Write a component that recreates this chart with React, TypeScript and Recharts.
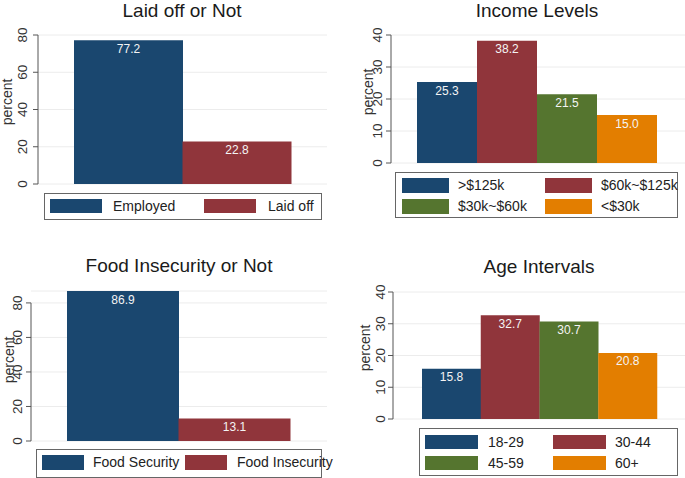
import React from 'react';
import { BarChart, Bar, XAxis, YAxis, CartesianGrid, Cell, LabelList } from 'recharts';

// values
const laidCats = ['Employed', 'Laid off'];
const laidVals = [77.2, 22.8];
const incomeCats = ['>$125k', '$60k~$125k', '$30k~$60k', '<$30k'];
const incomeVals = [25.3, 38.2, 21.5, 15.0];
const foodCats = ['Food Security', 'Food Insecurity'];
const foodVals = [86.9, 13.1];
const ageCats = ['18-29', '30-44', '45-59', '60+'];
const ageVals = [15.8, 32.7, 30.7, 20.8];
const ticks80 = [0, 20, 40, 60, 80];
const ticks40 = [0, 10, 20, 30, 40];

const palette = ['#1a476f', '#90353b', '#55752f', '#e37e00'];
const W = 685;
const H = 478;
const FONT = '"Liberation Sans", Arial, sans-serif';
const AXIS = '#555';

const YTick = ({ y, payload, plotLeft, plotBottom, topTick, labelDx }: any) => (
  <g>
    <line x1={plotLeft - 5} x2={plotLeft} y1={y} y2={y} stroke={AXIS} />
    {payload.value === topTick && (
      <line x1={plotLeft} x2={plotLeft} y1={y} y2={plotBottom} stroke={AXIS} />
    )}
    <text
      transform={`translate(${plotLeft - labelDx},${y}) rotate(-90)`}
      textAnchor="middle"
      fontSize={13.5}
      fontFamily={FONT}
      fill="#333"
    >
      {payload.value}
    </text>
  </g>
);

const PercentLabel = ({ px, py }: any) => (
  <text
    transform={`translate(${px},${py}) rotate(-90)`}
    textAnchor="middle"
    fontSize={14}
    fontFamily={FONT}
    fill="#333"
  >
    percent
  </text>
);

interface PanelProps {
  title: string;
  titleX: number;
  titleY: number;
  cats: string[];
  vals: number[];
  ticks: number[];
  margin: { top: number; right: number; bottom: number; left: number };
  padding: { left: number; right: number };
  labelDx: number;
  percentX: number;
  percentY: number;
  legend: {
    box: [number, number, number, number];
    swX: number[];
    txX: number[];
    rowY: number[];
    swW: number;
    swH: number;
  };
}

const Panel = (p: PanelProps) => {
  const rows = p.cats.map((name, i) => ({ name, value: p.vals[i] }));
  const topTick = p.ticks[p.ticks.length - 1];
  const plotLeft = p.margin.left + 30;
  const plotBottom = H - p.margin.bottom;
  const cols = p.legend.swX.length;
  return (
    <>
      <div style={{ position: 'absolute', left: 0, top: 0 }}>
        <BarChart width={W} height={H} data={rows} margin={p.margin} barCategoryGap={0}>
          <CartesianGrid vertical={false} stroke="#ececec" />
          <XAxis dataKey="name" type="category" hide padding={p.padding} />
          <YAxis
            width={30}
            domain={[0, Math.max(topTick, ...p.vals)]}
            ticks={p.ticks}
            interval={0}
            axisLine={false}
            tickLine={false}
            tickSize={0}
            tickMargin={0}
            tick={(t: any) => (
              <YTick {...t} plotLeft={plotLeft} plotBottom={plotBottom} topTick={topTick} labelDx={p.labelDx} />
            )}
            label={<PercentLabel px={p.percentX} py={p.percentY} />}
          />
          <Bar dataKey="value" isAnimationActive={false}>
            {rows.map((r, i) => (
              <Cell key={r.name} fill={palette[i]} />
            ))}
            <LabelList
              dataKey="value"
              position="insideTop"
              offset={4}
              fill="#f4f4f4"
              fontSize={12}
              fontFamily={FONT}
              formatter={(v: any) => Number(v).toFixed(1)}
            />
          </Bar>
        </BarChart>
      </div>
      <div
        style={{
          position: 'absolute',
          left: p.titleX,
          top: p.titleY,
          transform: 'translateX(-50%)',
          fontSize: 19,
          lineHeight: '19px',
          fontFamily: FONT,
          color: '#1a1a1a',
          whiteSpace: 'nowrap',
        }}
      >
        {p.title}
      </div>
      <div
        style={{
          position: 'absolute',
          left: p.legend.box[0],
          top: p.legend.box[1],
          width: p.legend.box[2],
          height: p.legend.box[3],
          border: '1px solid #666',
          boxSizing: 'border-box',
        }}
      />
      {p.cats.map((c, i) => {
        const col = i % cols;
        const row = Math.floor(i / cols);
        const top = p.legend.rowY[row];
        return (
          <React.Fragment key={c}>
            <div
              style={{
                position: 'absolute',
                left: p.legend.swX[col],
                top,
                width: p.legend.swW,
                height: p.legend.swH,
                background: palette[i],
              }}
            />
            <div
              style={{
                position: 'absolute',
                left: p.legend.txX[col],
                top,
                height: p.legend.swH,
                lineHeight: `${p.legend.swH}px`,
                fontSize: 14,
                fontFamily: FONT,
                color: '#222',
                whiteSpace: 'nowrap',
              }}
            >
              {c}
            </div>
          </React.Fragment>
        );
      })}
    </>
  );
};

export default function App() {
  return (
    <div style={{ position: 'fixed', left: 0, top: 0, width: W, height: H, background: '#fff', overflow: 'hidden' }}>
      <Panel
        title="Laid off or Not"
        titleX={182}
        titleY={1}
        cats={laidCats}
        vals={laidVals}
        ticks={ticks80}
        margin={{ top: 35, right: 358, bottom: H - 184, left: 8 }}
        padding={{ left: 36, right: 36 }}
        labelDx={11}
        percentX={12}
        percentY={102}
        legend={{ box: [44, 193, 278, 27], swX: [50, 204], txX: [113, 268], rowY: [199], swW: 52, swH: 14 }}
      />
      <Panel
        title="Income Levels"
        titleX={537}
        titleY={1}
        cats={incomeCats}
        vals={incomeVals}
        ticks={ticks40}
        margin={{ top: 35, right: 0, bottom: H - 163, left: 361 }}
        padding={{ left: 26, right: 28 }}
        labelDx={9}
        percentX={373}
        percentY={92}
        legend={{ box: [395, 172, 283, 46], swX: [402, 545], txX: [458, 601], rowY: [178, 199], swW: 47, swH: 15 }}
      />
      <Panel
        title="Food Insecurity or Not"
        titleX={179}
        titleY={256}
        cats={foodCats}
        vals={foodVals}
        ticks={ticks80}
        margin={{ top: 291, right: 358, bottom: H - 441, left: 1 }}
        padding={{ left: 36, right: 37 }}
        labelDx={9}
        percentX={14}
        percentY={360}
        legend={{ box: [36, 449, 286, 29], swX: [42, 185], txX: [93, 237], rowY: [455], swW: 42, swH: 15 }}
      />
      <Panel
        title="Age Intervals"
        titleX={539}
        titleY={257}
        cats={ageCats}
        vals={ageVals}
        ticks={ticks40}
        margin={{ top: 292, right: 0, bottom: H - 419, left: 363 }}
        padding={{ left: 29, right: 28 }}
        labelDx={8}
        percentX={370}
        percentY={348}
        legend={{ box: [419, 428, 259, 48], swX: [425, 553], txX: [488, 615], rowY: [435, 456], swW: 53, swH: 14 }}
      />
    </div>
  );
}
